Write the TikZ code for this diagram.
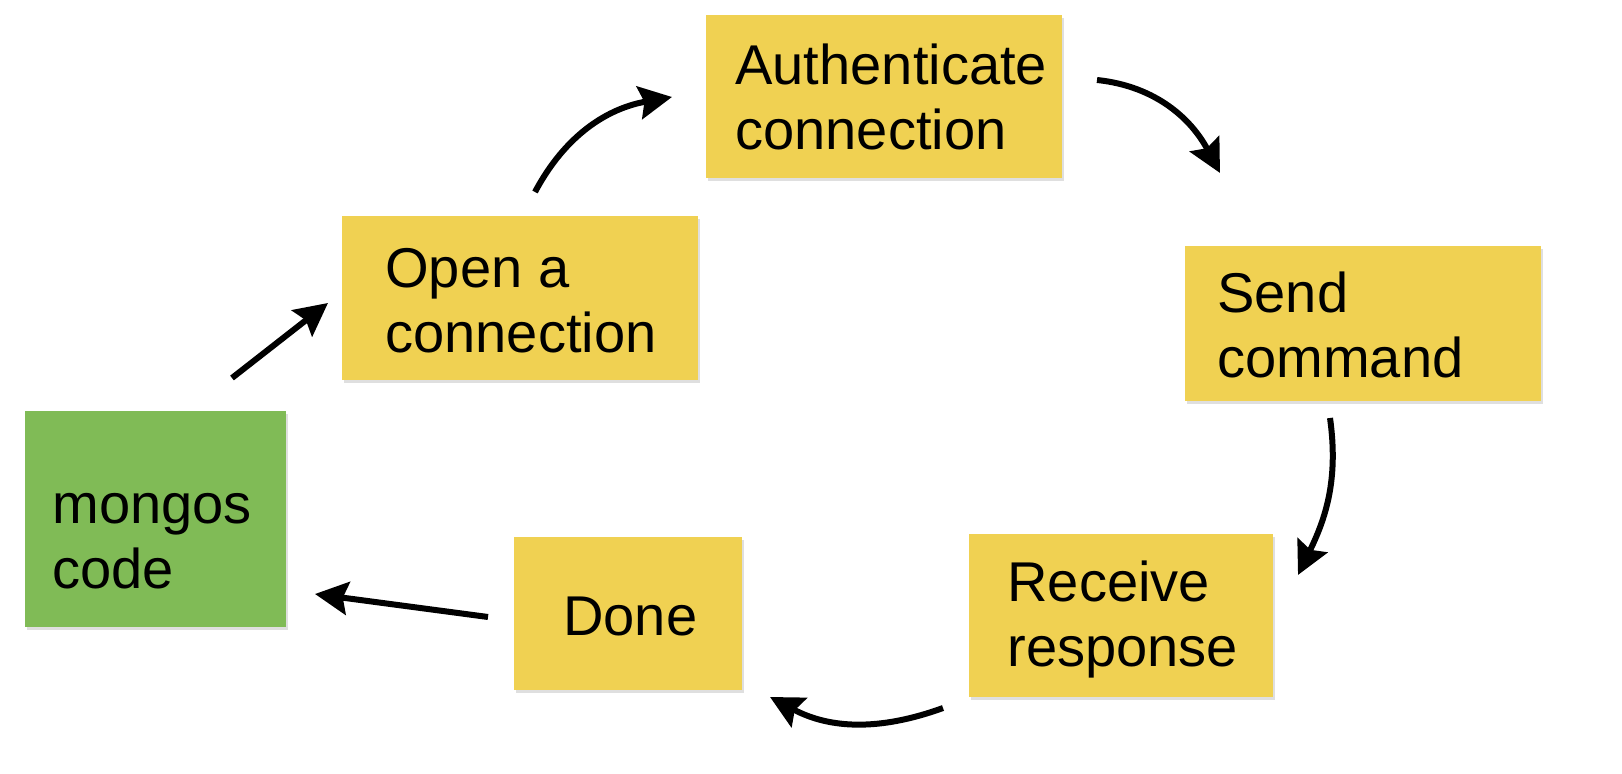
\documentclass[tikz,border=0pt]{standalone}
\usepackage{fontspec}
\setmainfont{Liberation Sans}
\usetikzlibrary{arrows.meta,shadows}
\definecolor{boxyellow}{HTML}{F0D152}
\definecolor{boxgreen}{HTML}{80BB56}
\tikzset{
  box/.style={rectangle, inner sep=0pt, draw=none,
    drop shadow={opacity=0.25, shadow xshift=0.04cm, shadow yshift=-0.06cm}},
  ybox/.style={box, fill=boxyellow},
  gbox/.style={box, fill=boxgreen},
  lbl/.style={anchor=base west, inner sep=0pt, align=left, font=\fontsize{31.9}{37}\selectfont},
  flow/.style={line width=0.12cm, -{Stealth[length=0.66cm,width=0.66cm,inset=0.1cm]}}
}
\begin{document}
\begin{tikzpicture}
\useasboundingbox (0,0) rectangle (32.44,15.48);
% boxes
\node[gbox, minimum width=5.22cm, minimum height=4.32cm] (mongos) at (3.11,5.10) {};
\node[ybox, minimum width=7.12cm, minimum height=3.28cm] (open) at (10.40,9.52) {};
\node[ybox, minimum width=7.12cm, minimum height=3.26cm] (auth) at (17.68,13.55) {};
\node[ybox, minimum width=7.12cm, minimum height=3.10cm] (send) at (27.26,9.01) {};
\node[ybox, minimum width=6.08cm, minimum height=3.26cm] (recv) at (22.42,3.17) {};
\node[ybox, minimum width=4.56cm, minimum height=3.06cm] (done) at (12.56,3.21) {};
% labels (base anchor = baseline of the last line)
\node[lbl] (mongosT) at (1.04,3.70) {mongos\\code};
\node[lbl] (openT) at (7.70,8.42) {Open a\\connection};
\node[lbl] (authT) at (14.70,12.48) {Authenticate\\connection};
\node[lbl] (sendT) at (24.34,7.92) {Send\\command};
\node[lbl] (recvT) at (20.14,2.14) {Receive\\response};
\node[lbl] (doneT) at (11.26,2.76) {Done};
% connector ends
\coordinate (a1s) at (4.64,7.92);  \coordinate (a1e) at (6.56,9.42);
\coordinate (a2s) at (10.70,11.64); \coordinate (a2e) at (13.44,13.54);
\coordinate (a3s) at (21.94,13.88); \coordinate (a3e) at (24.40,12.02);
\coordinate (a4s) at (26.60,7.12); \coordinate (a4e) at (25.96,3.98);
\coordinate (a5s) at (18.86,1.32); \coordinate (a5e) at (15.40,1.54);
\coordinate (a6s) at (9.76,3.14); \coordinate (a6e) at (6.30,3.60);
% connectors
\draw[flow] (a1s) -- (a1e);
\draw[flow] (a2s) to[out=62,in=190] (a2e);
\draw[flow] (a3s) to[out=-6,in=118] (a3e);
\draw[flow] (a4s) to[out=-82,in=64] (a4e);
\draw[flow] (a5s) to[out=200,in=-28] (a5e);
\draw[flow] (a6s) -- (a6e);
\end{tikzpicture}
\end{document}
